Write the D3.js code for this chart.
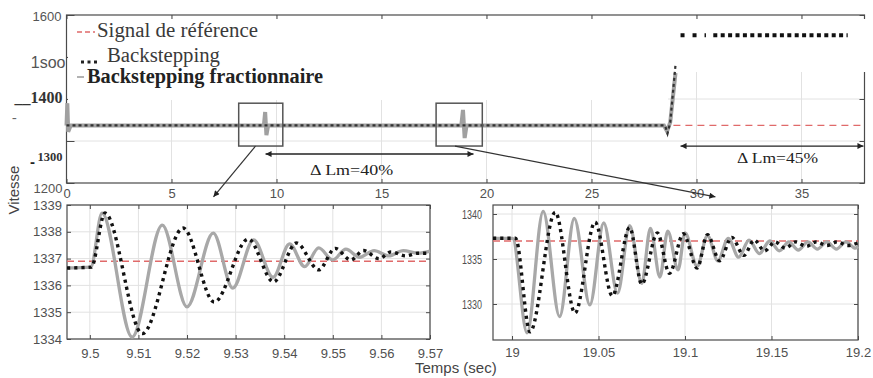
<!DOCTYPE html>
<html><head><meta charset="utf-8">
<script src="https://cdn.jsdelivr.net/npm/d3@7"></script>
<style>
html,body{margin:0;padding:0;background:#fff;}
svg{display:block;}
</style></head>
<body>
<svg id="c" width="873" height="378"></svg>
<script>
// ================= DATA =================
// Top overview panel
const topXTicks = [0,5,10,15,20,25,30,35];
const topYTicks = [1200,1300,1400,1500,1600];
const topYLabels = ["1200","1300","__1400","1soo","1600"];
const refTop = [[0,1337],[38,1337]];
const fracTop = [[0,1337],[0.04,1390],[0.08,1322],[0.2,1337],[9.4,1337],[9.46,1369],[9.52,1314],[9.6,1337],
                 [18.8,1337],[18.88,1374],[18.96,1307],[19.05,1337],[28.45,1337],[28.6,1323],[28.75,1345],[29.0,1462]];
const backTop = [[0,1337],[28.5,1337],[28.62,1318],[28.75,1345],[29.0,1481]];
const backTopSatSparse = [[29.24,1552],[30.45,1552]];
const backTopSatDense = [[30.8,1552],[37.2,1552]];
const zoomBoxes = [[8.2,10.3,1288,1390],[17.6,19.8,1288,1390]];
const deltaLabels = ["\u0394 Lm=40%","\u0394 Lm=45%"];
const deltaSpans = [[9.48,19.38,1269],[29.24,37.95,1288]];

// Bottom-left zoom (around t = 9.5 s)
const leftXTicks = [9.5,9.51,9.52,9.53,9.54,9.55,9.56,9.57];
const leftXLabels = ["9.5","9.51","9.52","9.53","9.54","9.55","9.56","9.57"];
const leftYTicks = [1334,1335,1336,1337,1338,1339];
const refLeft = [[9.4953,1336.9],[9.57,1336.9]];
const fracLeft = [[9.4953,1336.65],[9.5002,1336.68],[9.5025,1338.7],[9.5087,1334.07],[9.5149,1338.25],[9.5200,1335.2],
                  [9.5254,1337.95],[9.5294,1335.9],[9.5337,1337.7],[9.5377,1336.3],[9.5411,1337.55],[9.5442,1336.7],
                  [9.5471,1337.4],[9.5500,1336.95],[9.5527,1337.35],[9.5555,1337.05],[9.5585,1337.3],[9.5615,1337.1],
                  [9.5645,1337.3],[9.5675,1337.2],[9.57,1337.28]];
const backLeft = [[9.4953,1336.65],[9.5003,1336.68],[9.5031,1338.7],[9.5108,1334.2],[9.5192,1338.14],[9.5256,1335.38],
                  [9.5326,1337.73],[9.5378,1336.13],[9.5425,1337.58],[9.5471,1336.58],[9.5505,1337.38],[9.5537,1336.95],
                  [9.5563,1337.3],[9.5595,1337.0],[9.562,1337.25],[9.565,1337.1],[9.5675,1337.2],[9.57,1337.2]];

// Bottom-right zoom (around t = 19 s)
const rightXTicks = [19,19.05,19.1,19.15,19.2];
const rightXLabels = ["19","19.05","19.1","19.15","19.2"];
const rightYTicks = [1330,1335,1340];
const refRight = [[18.989,1337],[19.2,1337]];
const fracRight = [[18.989,1337.3],[19.0003,1337.3],[19.0087,1326.8],[19.018,1340.3],[19.0275,1328.6],[19.036,1339.5],
                   [19.045,1329.9],[19.053,1339.0],[19.061,1331.2],[19.068,1338.7],[19.075,1332.3],[19.080,1338.4],
                   [19.0855,1333.0],[19.090,1338.1],[19.096,1333.8],[19.100,1337.9],[19.107,1334.2],[19.113,1337.6],
                   [19.119,1334.8],[19.125,1337.3],[19.131,1335.2],[19.137,1337.1],[19.143,1335.6],[19.149,1337.0],
                   [19.1545,1335.9],[19.160,1336.9],[19.1655,1336.0],[19.171,1336.9],[19.1765,1336.1],[19.182,1336.9],
                   [19.1875,1336.1],[19.193,1336.9],[19.1985,1336.2],[19.2,1336.4]];
const backRight = [[18.989,1337.3],[19.002,1337.3],[19.0104,1326.9],[19.025,1340.2],[19.0364,1329.0],[19.048,1339.1],
                   [19.058,1330.9],[19.068,1338.5],[19.075,1332.2],[19.084,1337.9],[19.091,1333.4],[19.099,1337.8],
                   [19.107,1334.0],[19.113,1337.7],[19.120,1334.8],[19.127,1337.4],[19.134,1335.4],[19.140,1337.1],
                   [19.146,1335.9],[19.152,1336.9],[19.158,1336.2],[19.164,1336.9],[19.170,1336.4],[19.176,1336.9],
                   [19.182,1336.5],[19.188,1336.9],[19.194,1336.5],[19.2,1336.8]];

const legendLabels = ["Signal de r\u00e9f\u00e9rence","Backstepping","Backstepping fractionnaire"];
const axisTitles = ["Vitesse","Temps (sec)"];

// ================= DRAWING =================
const SANS = "'Liberation Sans', Arial, sans-serif";
const SERIF = "'Liberation Serif', 'Times New Roman', serif";
const C_GRAY = "#a8a8a8", C_DOT = "#111", C_REF = "#e06a6a", C_GRID = "#e2e2e2", C_FRAME = "#4a4a4a";

const svg = d3.select("#c");
const defs = svg.append("defs");
defs.append("marker").attr("id","ah").attr("viewBox","0 0 10 10")
  .attr("refX",10).attr("refY",5).attr("markerWidth",9).attr("markerHeight",6)
  .attr("markerUnits","userSpaceOnUse").attr("orient","auto-start-reverse")
  .append("path").attr("d","M0,0L10,5L0,10z").attr("fill","#222");

function styleAxis(g, size){
  g.select(".domain").remove();
  g.selectAll(".tick line").attr("stroke",C_FRAME);
  g.selectAll(".tick text").attr("fill","#505050").style("font-family",SANS).style("font-size",(size||13)+"px");
}

// ---------- Top panel ----------
const xT = d3.scaleLinear().domain([0,38]).range([66.5,864.5]);
const yT = d3.scaleLinear().domain([1200,1600]).range([183,15]);
const gT = svg.append("g");

gT.append("g").selectAll("line").data(topXTicks.filter(d=>d>0)).join("line")
  .attr("x1",d=>xT(d)).attr("x2",d=>xT(d)).attr("y1",yT(1200)).attr("y2",yT(1600))
  .attr("stroke",C_GRID).attr("stroke-width",1);
gT.append("g").selectAll("line").data(topYTicks.slice(1,4)).join("line")
  .attr("x1",xT(0)).attr("x2",xT(38)).attr("y1",d=>yT(d)).attr("y2",d=>yT(d))
  .attr("stroke",C_GRID).attr("stroke-width",1);

gT.append("rect").attr("x",xT(0)).attr("y",yT(1600)).attr("width",xT(38)-xT(0)).attr("height",yT(1200)-yT(1600))
  .attr("fill","none").attr("stroke",C_FRAME).attr("stroke-width",1.2);

const axTB = gT.append("g").attr("transform",`translate(0,${yT(1200)})`)
  .call(d3.axisBottom(xT).tickValues(topXTicks).tickSizeInner(-4).tickSizeOuter(0).tickPadding(6).tickFormat(d3.format("d")));
styleAxis(axTB,13);
const axTT = gT.append("g").attr("transform",`translate(0,${yT(1600)})`)
  .call(d3.axisTop(xT).tickValues(topXTicks).tickSizeInner(-4).tickSizeOuter(0).tickFormat(""));
styleAxis(axTT);
const axTR = gT.append("g").attr("transform",`translate(${xT(38)},0)`)
  .call(d3.axisRight(yT).tickValues(topYTicks).tickSizeInner(-5).tickSizeOuter(0).tickFormat(""));
styleAxis(axTR);
const axTL = gT.append("g").attr("transform",`translate(${xT(0)},0)`)
  .call(d3.axisLeft(yT).tickValues(topYTicks).tickSizeInner(-8).tickSizeOuter(0).tickPadding(4)
        .tickFormat((d,i)=>topYLabels[i]));
styleAxis(axTL,13);
const topLabelLook = [
  {fam:SANS, w:"normal", s:13, dx:0, dy:5, fill:"#555"},
  {fam:SERIF, w:"bold", s:12.5, dx:0, dy:15, fill:"#333"},
  {fam:SERIF, w:"bold", s:16, dx:0, dy:-2, fill:"#333"},
  {fam:SANS, w:"normal", s:16, dx:3, dy:5, fill:"#555"},
  {fam:SANS, w:"normal", s:13, dx:-1, dy:1, fill:"#555"}
];
axTL.selectAll(".tick").each(function(d,i){
  const L = topLabelLook[i];
  d3.select(this).select("text")
    .style("font-family",L.fam).style("font-weight",L.w).style("font-size",L.s+"px")
    .attr("fill",L.fill).attr("transform",`translate(${L.dx},${L.dy})`);
});

// white legend area covering the grid (as in the figure)
gT.append("rect").attr("x",68).attr("y",19).attr("width",600).attr("height",81).attr("fill","#fff");
gT.append("rect").attr("x",660).attr("y",19).attr("width",210).attr("height",53).attr("fill","#fff");
svg.append("rect").attr("x",0).attr("y",0).attr("width",66).attr("height",12).attr("fill","#fff");

// stray scan marks
svg.append("text").attr("x",12).attr("y",122).text("-").style("font-family",SERIF).style("font-size","14px").attr("fill","#666");
svg.append("text").attr("x",30).attr("y",167).text("-").style("font-family",SANS).style("font-weight","bold").style("font-size","15px").attr("fill","#222");

const lineT = d3.line().x(d=>xT(d[0])).y(d=>yT(d[1]));
gT.append("path").datum(fracTop).attr("d",lineT).attr("fill","none").attr("stroke","#a0a0a0").attr("stroke-width",4);
gT.append("path").datum(backTop).attr("d",lineT).attr("fill","none").attr("stroke","#333").attr("stroke-width",2.2).attr("stroke-dasharray","3,3");
gT.append("path").datum(refTop.map(d=>[Math.max(d[0],28.9),d[1]])).attr("d",lineT).attr("fill","none").attr("stroke",C_REF).attr("stroke-width",1.2).attr("stroke-dasharray","7,5");
gT.append("path").datum(backTopSatSparse).attr("d",lineT).attr("fill","none").attr("stroke","#111").attr("stroke-width",4).attr("stroke-dasharray","4,8");
gT.append("path").datum(backTopSatDense).attr("d",lineT).attr("fill","none").attr("stroke","#111").attr("stroke-width",4).attr("stroke-dasharray","4,3.4");

gT.selectAll("rect.zb").data(zoomBoxes).join("rect").attr("class","zb")
  .attr("x",d=>xT(d[0])).attr("y",d=>yT(d[3])).attr("width",d=>xT(d[1])-xT(d[0])).attr("height",d=>yT(d[2])-yT(d[3]))
  .attr("fill","none").attr("stroke","#555").attr("stroke-width",1.5);
const zoomArrows = [[9.0,1288,7.0,1167],[18.5,1288,30.9,1167]];
gT.selectAll("line.za").data(zoomArrows).join("line").attr("class","za")
  .attr("x1",d=>xT(d[0])).attr("y1",d=>yT(d[1])).attr("x2",d=>xT(d[2])).attr("y2",d=>yT(d[3]))
  .attr("stroke","#333").attr("stroke-width",1.2).attr("marker-end","url(#ah)");
gT.selectAll("line.da").data(deltaSpans).join("line").attr("class","da")
  .attr("x1",d=>xT(d[0])).attr("x2",d=>xT(d[1])).attr("y1",d=>yT(d[2])).attr("y2",d=>yT(d[2]))
  .attr("stroke","#222").attr("stroke-width",1.3).attr("marker-start","url(#ah)").attr("marker-end","url(#ah)");
const deltaAt = [[11.6,1219,83],[31.93,1248,81]];
gT.selectAll("text.dl").data(deltaLabels).join("text").attr("class","dl")
  .attr("x",(d,i)=>xT(deltaAt[i][0])).attr("y",(d,i)=>yT(deltaAt[i][1]))
  .attr("textLength",(d,i)=>deltaAt[i][2]).attr("lengthAdjust","spacingAndGlyphs")
  .style("font-family",SERIF).style("font-size","15px").attr("fill","#222").text(d=>d);

// legend
const lg = svg.append("g");
lg.append("line").attr("x1",77).attr("x2",95).attr("y1",32).attr("y2",32).attr("stroke",C_REF).attr("stroke-width",1.3).attr("stroke-dasharray","5,3");
lg.append("line").attr("x1",81).attr("x2",97).attr("y1",62).attr("y2",62).attr("stroke","#222").attr("stroke-width",3).attr("stroke-dasharray","3,3.5");
lg.append("line").attr("x1",77).attr("x2",84).attr("y1",77).attr("y2",77).attr("stroke","#999").attr("stroke-width",1.5);
const legPos = [[97,37,161,"normal"],[107,62,113,"normal"],[87,83,236,"bold"]];
lg.selectAll("text").data(legendLabels).join("text")
  .attr("x",(d,i)=>legPos[i][0]).attr("y",(d,i)=>legPos[i][1])
  .attr("textLength",(d,i)=>legPos[i][2]).attr("lengthAdjust","spacingAndGlyphs")
  .style("font-family",SERIF).style("font-size","20px").style("font-weight",(d,i)=>legPos[i][3])
  .attr("fill",(d,i)=>i==2?"#222":"#3a3a3a").text(d=>d);

// ---------- Bottom panels ----------
function panel(id, x0,x1,y0,y1, xd,yd, xt,xl,yt, padX,padY, yLabW, ref,frac,back){
  const x = d3.scaleLinear().domain(xd).range([x0,x1]);
  const y = d3.scaleLinear().domain(yd).range([y1,y0]);
  const g = svg.append("g");
  g.append("g").selectAll("line").data(xt).join("line")
    .attr("x1",d=>x(d)).attr("x2",d=>x(d)).attr("y1",y0).attr("y2",y1).attr("stroke",C_GRID);
  g.append("g").selectAll("line").data(yt).join("line")
    .attr("x1",x0).attr("x2",x1).attr("y1",d=>y(d)).attr("y2",d=>y(d)).attr("stroke",C_GRID);
  g.append("rect").attr("x",x0).attr("y",y0).attr("width",x1-x0).attr("height",y1-y0)
    .attr("fill","none").attr("stroke",C_FRAME).attr("stroke-width",1.2);
  const ab = g.append("g").attr("transform",`translate(0,${y1})`)
    .call(d3.axisBottom(x).tickValues(xt).tickSizeInner(-4).tickSizeOuter(0).tickPadding(padX).tickFormat((d,i)=>xl[i]));
  styleAxis(ab,13);
  const at = g.append("g").attr("transform",`translate(0,${y0})`)
    .call(d3.axisTop(x).tickValues(xt).tickSizeInner(-4).tickSizeOuter(0).tickFormat(""));
  styleAxis(at);
  const al = g.append("g").attr("transform",`translate(${x0},0)`)
    .call(d3.axisLeft(y).tickValues(yt).tickSizeInner(-4).tickSizeOuter(0).tickPadding(padY).tickFormat(d3.format("d")));
  styleAxis(al,13);
  if (yLabW) al.selectAll(".tick text").attr("textLength",yLabW).attr("lengthAdjust","spacingAndGlyphs");
  const ar = g.append("g").attr("transform",`translate(${x1},0)`)
    .call(d3.axisRight(y).tickValues(yt).tickSizeInner(-4).tickSizeOuter(0).tickFormat(""));
  styleAxis(ar);
  defs.append("clipPath").attr("id",id).append("rect").attr("x",x0).attr("y",y0-2).attr("width",x1-x0+2).attr("height",y1-y0+4);
  const line = d3.line().x(d=>x(d[0])).y(d=>y(d[1])).curve(d3.curveMonotoneX);
  const dg = g.append("g").attr("clip-path",`url(#${id})`);
  dg.append("path").datum(ref).attr("d",line).attr("fill","none").attr("stroke",C_REF).attr("stroke-width",1.4).attr("stroke-dasharray","7,4");
  dg.append("path").datum(frac).attr("d",line).attr("fill","none").attr("stroke",C_GRAY).attr("stroke-width",3.3);
  dg.append("path").datum(back).attr("d",line).attr("fill","none").attr("stroke",C_DOT).attr("stroke-width",3.4).attr("stroke-dasharray","3.2,4");
}
panel("clipL", 67,430,205,339, [9.4953,9.57],[1334,1339], leftXTicks,leftXLabels,leftYTicks, 9.5,5,0, refLeft,fracLeft,backLeft);
panel("clipR", 493,858,205,340, [18.989,19.2],[1326,1341], rightXTicks,rightXLabels,rightYTicks, 7.5,11,20, refRight,fracRight,backRight);

// axis titles
svg.append("text").attr("transform","translate(19,190) rotate(-90)").attr("text-anchor","middle")
  .style("font-family",SANS).style("font-size","15px").attr("fill","#444").text(axisTitles[0]);
svg.append("text").attr("x",415).attr("y",373)
  .style("font-family",SANS).style("font-size","15px").attr("fill","#444").text(axisTitles[1]);
</script>
</body></html>
